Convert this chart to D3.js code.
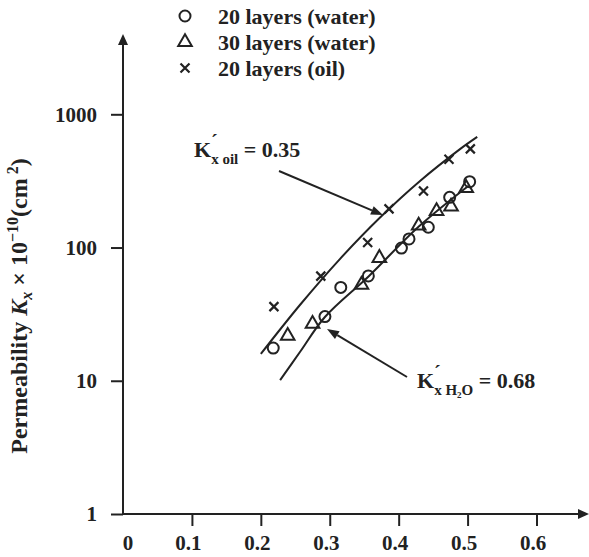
<!DOCTYPE html>
<html>
<head>
<meta charset="utf-8">
<script src="https://cdn.jsdelivr.net/npm/d3@7"></script>
<style>
  body { margin: 0; background: #fff; }
  svg text { font-family: "Liberation Serif", "DejaVu Serif", "Times New Roman", serif; font-weight: bold; fill: #222; }
</style>
</head>
<body>
<div id="chart"></div>
<script>
// chart data
var water20X = [0.218, 0.293, 0.316, 0.356, 0.404, 0.415, 0.443, 0.474, 0.503];
var water20K = [17.6, 30.3, 50.2, 61.2, 99, 116, 142, 238, 312];

var water30X = [0.239, 0.275, 0.346, 0.372, 0.429, 0.455, 0.476, 0.498];
var water30K = [21.7, 26.7, 52.4, 83.5, 146, 188, 203, 279];

var oil20X = [0.219, 0.287, 0.355, 0.386, 0.436, 0.473, 0.504];
var oil20K = [36, 61, 109, 195, 266, 460, 550];

// fitted curves as drawn
var fitOilX = [0.200, 0.257, 0.315, 0.373, 0.431, 0.489, 0.514];
var fitOilK = [15.9, 37.2, 82.3, 168, 316, 548, 677];
var fitWaterX = [0.228, 0.257, 0.293, 0.357, 0.430, 0.501];
var fitWaterK = [10.1, 16.5, 30.1, 61.2, 145, 290];

var xTicks = [0.1, 0.2, 0.3, 0.4, 0.5, 0.6];
var yTicks = [1, 10, 100, 1000];
var legendLabels = ["20 layers (water)", "30 layers (water)", "20 layers (oil)"];
var legendShapes = ["circle", "triangle", "cross"];

var width = 589, height = 557;
var ink = "#222";

var svg = d3.select("#chart")
    .append("svg")
    .attr("width", width)
    .attr("height", height);

var xScale = d3.scaleLinear().domain([0, 0.6]).range([123, 536.5]);
var yScale = d3.scaleLog().domain([1, 1000]).range([514, 114.3]);

// axes
var xAxis = d3.axisBottom(xScale)
    .tickValues(xTicks)
    .tickSize(12)
    .tickPadding(9)
    .tickFormat(d3.format(".1f"));

var yAxis = d3.axisLeft(yScale)
    .tickValues(yTicks)
    .tickSize(12)
    .tickPadding(14)
    .tickFormat(d3.format("d"));

var gx = svg.append("g")
    .attr("transform", "translate(0," + yScale(1) + ")")
    .call(xAxis);
var gy = svg.append("g")
    .attr("transform", "translate(" + xScale(0) + ",0)")
    .call(yAxis);

[gx, gy].forEach(function(g) {
  g.attr("font-family", null).attr("font-size", null);
  g.select(".domain").remove();
  g.selectAll(".tick line").attr("stroke", ink).attr("stroke-width", 2);
  g.selectAll(".tick text")
    .attr("font-size", 21)
    .attr("fill", ink);
});
gx.selectAll(".tick text").attr("dx", -4);

// label for the origin
svg.append("text")
    .attr("x", xScale(0) + 5)
    .attr("y", 550)
    .attr("text-anchor", "middle")
    .attr("font-size", 21)
    .text("0");

// axis lines with arrow heads
svg.append("line")
    .attr("x1", xScale(0)).attr("y1", yScale(1))
    .attr("x2", 580).attr("y2", yScale(1))
    .attr("stroke", ink).attr("stroke-width", 2);
svg.append("path")
    .attr("d", "M589," + yScale(1) + "l-11,-5v10z")
    .attr("fill", ink);

svg.append("line")
    .attr("x1", xScale(0)).attr("y1", yScale(1))
    .attr("x2", xScale(0)).attr("y2", 44)
    .attr("stroke", ink).attr("stroke-width", 2);
svg.append("path")
    .attr("d", "M" + xScale(0) + ",34l-5,11h10z")
    .attr("fill", ink);

// y axis title
var yTitle = svg.append("text")
    .attr("transform", "translate(27,306)rotate(-90)")
    .attr("text-anchor", "middle")
    .attr("font-size", 24);
yTitle.append("tspan").text("Permeability ");
yTitle.append("tspan").attr("font-style", "italic").text("K");
yTitle.append("tspan").attr("font-style", "italic").attr("font-size", 16).attr("dy", 5).text("x");
yTitle.append("tspan").attr("dy", -5).text(" \u00d7 10");
yTitle.append("tspan").attr("font-size", 16).attr("dy", -9).text("\u221210");
yTitle.append("tspan").attr("dy", 9).text("(cm");
yTitle.append("tspan").attr("font-size", 16).attr("dy", -9).text(" 2");
yTitle.append("tspan").attr("dy", 9).text(")");

// fitted curves
var line = d3.line()
    .x(function(d) { return xScale(d[0]); })
    .y(function(d) { return yScale(d[1]); })
    .curve(d3.curveCatmullRom);

svg.append("path")
    .datum(d3.zip(fitOilX, fitOilK))
    .attr("d", line)
    .attr("fill", "none").attr("stroke", ink).attr("stroke-width", 2);
svg.append("path")
    .datum(d3.zip(fitWaterX, fitWaterK))
    .attr("d", line)
    .attr("fill", "none").attr("stroke", ink).attr("stroke-width", 2);

// markers
function drawMarker(g, shape) {
  if (shape === "circle") {
    g.append("circle").attr("r", 5.5)
      .attr("fill", "none").attr("stroke", ink).attr("stroke-width", 2);
  } else if (shape === "triangle") {
    g.append("path").attr("d", d3.symbol(d3.symbolTriangle, 80)())
      .attr("fill", "none").attr("stroke", ink).attr("stroke-width", 2)
      .attr("stroke-linejoin", "miter");
  } else {
    g.append("path").attr("d", "M-4.5,-4.5L4.5,4.5M-4.5,4.5L4.5,-4.5")
      .attr("fill", "none").attr("stroke", ink).attr("stroke-width", 2.2);
  }
}

function plotSeries(xs, ks, shape) {
  svg.selectAll(null)
    .data(d3.zip(xs, ks))
    .enter()
    .append("g")
    .attr("transform", function(d) {
      return "translate(" + xScale(d[0]) + "," + yScale(d[1]) + ")";
    })
    .each(function() { drawMarker(d3.select(this), shape); });
}

plotSeries(water20X, water20K, "circle");
plotSeries(water30X, water30K, "triangle");
plotSeries(oil20X, oil20K, "cross");

// legend
var legendY = [16, 42, 68];
legendLabels.forEach(function(label, i) {
  var g = svg.append("g").attr("transform", "translate(185," + legendY[i] + ")");
  drawMarker(g, legendShapes[i]);
  svg.append("text")
    .attr("x", 218).attr("y", legendY[i])
    .attr("dy", "0.35em")
    .attr("font-size", 22)
    .text(label);
});

// annotations
function annotate(x, y, sub, value) {
  var t = svg.append("text").attr("x", x).attr("y", y).attr("font-size", 22);
  t.append("tspan").text("K");
  t.append("tspan").attr("font-size", 15).attr("dy", 7).text(sub);
  t.append("tspan").attr("dy", -7).text(" = " + value);
  svg.append("text").attr("x", x + 17).attr("y", y - 8).attr("font-size", 20).text("\u00b4");
}
annotate(194, 157, "x oil", "0.35");
annotate(417, 388, "x H\u2082O", "0.68");

function arrow(x1, y1, x2, y2) {
  var ang = Math.atan2(y2 - y1, x2 - x1);
  var len = 12, half = 4.5;
  var bx = x2 - len * Math.cos(ang), by = y2 - len * Math.sin(ang);
  svg.append("line")
    .attr("x1", x1).attr("y1", y1).attr("x2", bx).attr("y2", by)
    .attr("stroke", ink).attr("stroke-width", 2);
  svg.append("path")
    .attr("d", "M" + x2 + "," + y2 +
      "L" + (bx + half * Math.sin(ang)) + "," + (by - half * Math.cos(ang)) +
      "L" + (bx - half * Math.sin(ang)) + "," + (by + half * Math.cos(ang)) + "Z")
    .attr("fill", ink);
}
arrow(279, 171, 383, 215);
arrow(407, 377, 327, 329);
</script>
</body>
</html>
